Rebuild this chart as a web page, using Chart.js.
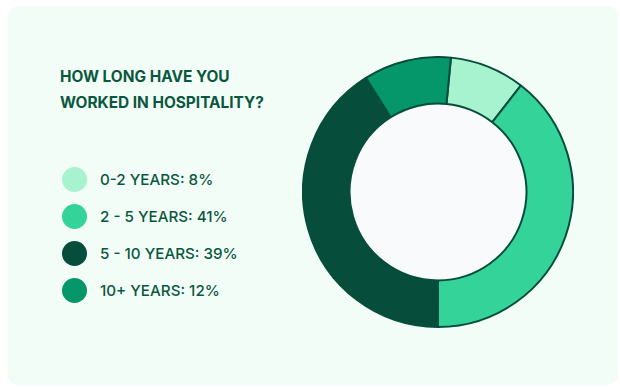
<!DOCTYPE html>
<html>
<head>
<meta charset="utf-8">
<script src="https://cdn.jsdelivr.net/npm/chart.js@4/dist/chart.umd.min.js"></script>
<style>
  html, body { margin: 0; padding: 0; background: #ffffff; }
  body { width: 620px; height: 387px; position: relative; overflow: hidden; font-family: Inter, "Noto Sans", sans-serif; }
  .card { position: absolute; left: 8px; top: 6px; width: 610px; height: 379px; background: #f3fdf7; border-radius: 10px; }
  .title { position: absolute; left: 60px; top: 64px; margin: 0; font-size: 15.4px; font-weight: 700; line-height: 26px; color: #0a5740; }
  .legend { position: absolute; left: 62px; top: 161px; margin: 0; padding: 0; list-style: none; }
  .legend li { height: 37px; display: flex; align-items: center; font-size: 15.2px; font-weight: 500; color: #0a5740; }
  .legend .dot { width: 25px; height: 25px; border-radius: 50%; margin-right: 13px; flex: none; }
  #wrap { position: absolute; left: 302px; top: 56px; width: 272px; height: 272px; }
</style>
</head>
<body>
<div class="card"></div>
<h2 class="title">HOW LONG HAVE YOU<br>WORKED IN HOSPITALITY?</h2>
<ul class="legend" id="legend"></ul>
<div id="wrap"><canvas id="myChart"></canvas></div>
<script>
// categories and their printed percentages
const categories = ['0-2 YEARS', '2 - 5 YEARS', '5 - 10 YEARS', '10+ YEARS']
const percents = [8, 41, 39, 12]
// arc sizes as they are drawn in the picture (not quite the printed numbers)
const arcShares = [9, 39.5, 41, 10.5]
const colors = ['#a7f3d0', '#34d399', '#064e3b', '#059669']

const legend = document.getElementById('legend')
for (let i = 0; i < categories.length; i++) {
    const li = document.createElement('li')
    li.innerHTML = '<span class="dot" style="background:' + colors[i] + '"></span>' + categories[i] + ': ' + percents[i] + '%'
    legend.appendChild(li)
}

// fill the hole of the doughnut
const holeFill = {
    id: 'holeFill',
    beforeDatasetsDraw(chart) {
        const arc = chart.getDatasetMeta(0).data[0]
        if (!arc) return
        const ctx = chart.ctx
        ctx.save()
        ctx.beginPath()
        ctx.arc(arc.x, arc.y, arc.innerRadius, 0, Math.PI * 2)
        ctx.fillStyle = '#f8fafc'
        ctx.fill()
        ctx.restore()
    }
}

const ctx = document.getElementById('myChart').getContext('2d')
const myChart = new Chart(ctx, {
    type: 'doughnut',
    data: {
        labels: categories,
        datasets: [{
            data: arcShares,
            backgroundColor: colors,
            borderColor: '#064e3b',
            borderWidth: 2,
            hoverOffset: 0
        }]
    },
    options: {
        responsive: true,
        maintainAspectRatio: false,
        animation: false,
        cutout: '65.5%',
        rotation: 5.5,
        layout: { padding: 0 },
        plugins: {
            legend: { display: false },
            tooltip: { enabled: false }
        }
    },
    plugins: [holeFill]
})
</script>
</body>
</html>
